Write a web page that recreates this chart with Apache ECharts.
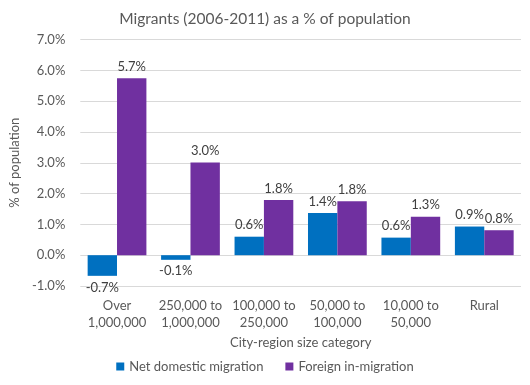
<!DOCTYPE html>
<html><head><meta charset="utf-8">
<script src="https://cdn.jsdelivr.net/npm/echarts@6/dist/echarts.min.js"></script>
<style>html,body{margin:0;padding:0;background:#fff}#c{width:530px;height:385px}</style>
</head><body><div id="c"></div>
<script>
const categories = ['Over\n1,000,000', '250,000 to\n1,000,000', '100,000 to\n250,000', '50,000 to\n100,000', '10,000 to\n50,000', 'Rural'];
const netDomestic = [-0.67, -0.15, 0.60, 1.37, 0.57, 0.93];
const foreignIn = [5.74, 3.01, 1.79, 1.75, 1.25, 0.81];
const seriesNames = ['Net domestic migration', 'Foreign in-migration'];
const FONT = 'Lato';
const labelStyle = {
  show: true, color: '#404040', fontFamily: FONT, fontSize: 13,
  formatter: p => p.value.toFixed(1) + '%'
};
function withPos(vals) {
  return vals.map(v => ({ value: v, label: { position: v < 0 ? 'bottom' : 'top' } }));
}
const chart = echarts.init(document.getElementById('c'));
chart.setOption({
  animation: false,
  title: { text: 'Migrants (2006-2011) as a % of population', left: 'center', top: 6,
    textStyle: { fontFamily: FONT, fontSize: 15.5, fontWeight: 'normal', color: '#595959' } },
  grid: { left: 73, right: 9, top: 39.5, bottom: 99 },
  legend: { bottom: 7, left: 'center', itemWidth: 8, itemHeight: 8, itemGap: 22, icon: 'rect',
    textStyle: { fontFamily: FONT, fontSize: 13, color: '#595959' } },
  xAxis: { type: 'category', data: categories, position: 'bottom',
    axisLine: { show: false, onZero: false }, axisTick: { show: false },
    axisLabel: { fontFamily: FONT, fontSize: 13, color: '#595959', lineHeight: 17, margin: 11, interval: 0 },
    name: 'City-region size category', nameLocation: 'middle', nameGap: 48,
    nameTextStyle: { fontFamily: FONT, fontSize: 13, color: '#595959' } },
  yAxis: { type: 'value', min: -1, max: 7, interval: 1,
    axisLabel: { fontFamily: FONT, fontSize: 13, color: '#595959', formatter: v => v.toFixed(1) + '%', margin: 15 },
    splitLine: { lineStyle: { color: '#d9d9d9' } },
    axisLine: { show: false }, axisTick: { show: false },
    name: '% of population', nameLocation: 'middle', nameGap: 44,
    nameTextStyle: { fontFamily: FONT, fontSize: 13, color: '#595959' } },
  series: [
    { name: seriesNames[0], type: 'bar', data: withPos(netDomestic), itemStyle: { color: '#0070C0' },
      barGap: '0%', barCategoryGap: '20%', label: labelStyle },
    { name: seriesNames[1], type: 'bar', data: withPos(foreignIn), itemStyle: { color: '#7030A0' },
      barGap: '0%', barCategoryGap: '20%', label: labelStyle }
  ]
});
</script></body></html>
